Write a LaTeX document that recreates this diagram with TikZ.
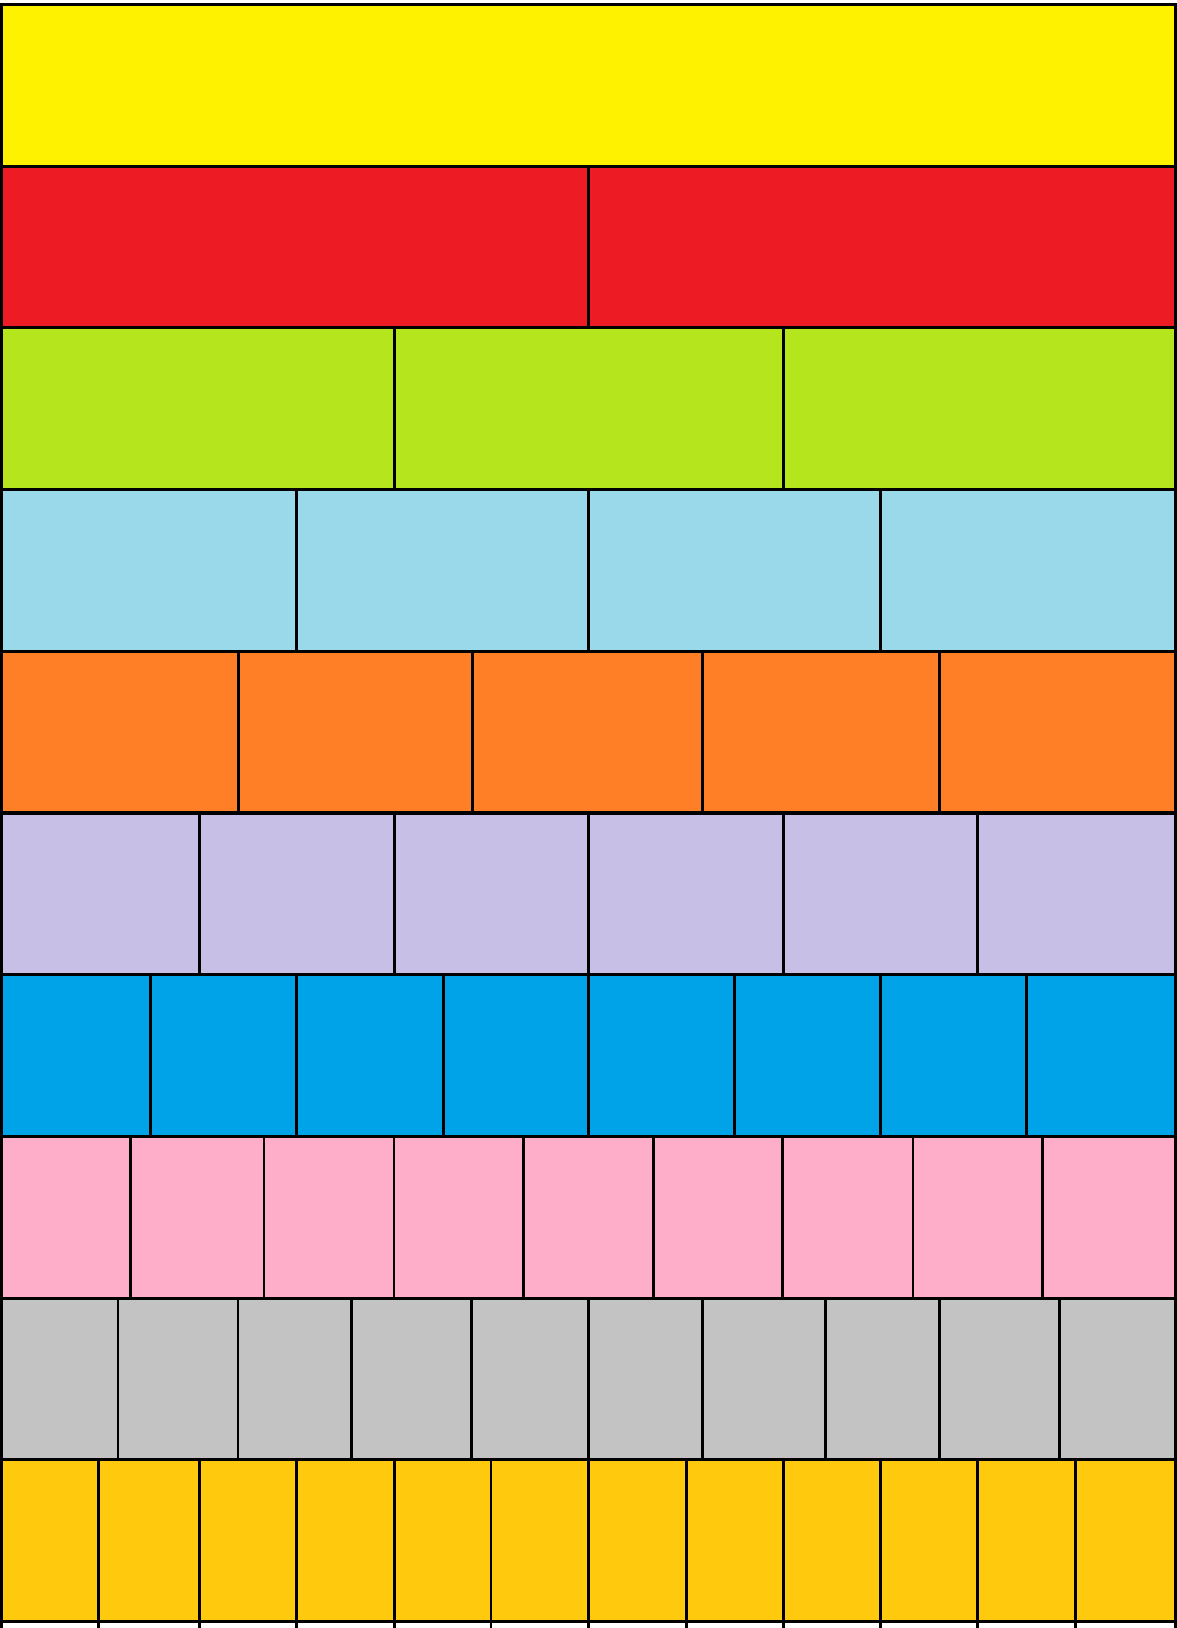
\documentclass[tikz,border=0pt]{standalone}
\definecolor{cA}{HTML}{FFF200}
\definecolor{cB}{HTML}{ED1C24}
\definecolor{cC}{HTML}{B5E61D}
\definecolor{cD}{HTML}{99D9EA}
\definecolor{cE}{HTML}{FF7F27}
\definecolor{cF}{HTML}{C8BFE7}
\definecolor{cG}{HTML}{00A2E8}
\definecolor{cH}{HTML}{FFAEC9}
\definecolor{cI}{HTML}{C3C3C3}
\definecolor{cJ}{HTML}{FFC90E}
\begin{document}
\begin{tikzpicture}[x=1pt,y=-1pt,
  wall/.style={draw=black,line width=3.1pt},
  divline/.style={draw=black,line width=2.9pt}]
\useasboundingbox (0,0) rectangle (1177,1628);
\def\L{1.5}
\def\R{1175.5}
\def\T{4.5}
\def\H{161.7}
% row 1
\fill[cA] (\L,\T) rectangle (\R,\T+\H);
\draw[wall] (\L,\T) rectangle (\R,\T+\H);
% other rows
\foreach \i/\col/\divs in {
  1/cB/{588.5},
  2/cC/{394.4,783.7},
  3/cD/{296.9,588.5,880.2},
  4/cE/{238.7,472.3,702.7,939.4},
  5/cF/{199.3,394.4,588.5,783.7,977.8},
  6/cG/{150.5,296.9,443.2,588.5,734.9,880.2,1026.6},
  7/cH/{130.7,264,394,523.3,653.3,782.7,913,1042.7},
  8/cI/{118,238,351.7,471.7,588.3,702.3,825.3,939.3,1059.7},
  9/cJ/{98.5,199.3,296.9,394.4,491,588.5,686.1,783.7,880.2,977.8,1075.4}}{
  \fill[\col] (\L,\T+\i*\H) rectangle (\R,\T+\i*\H+\H);
  \foreach \x in \divs {
    \draw[divline] (\x,\T+\i*\H) -- (\x,\T+\i*\H+\H);
  }
  \draw[wall] (\L,\T+\i*\H) rectangle (\R,\T+\i*\H+\H);
}
% stubs of the next row below the cut
\foreach \x in {98.5,199.3,296.9,394.4,491,588.5,686.1,783.7,880.2,977.8,1075.4} {
  \draw[divline] (\x,\T+10*\H) -- (\x,1630);
}
\draw[wall] (\L,\T+10*\H) -- (\L,1630);
\draw[wall] (\R,\T+10*\H) -- (\R,1630);
\end{tikzpicture}
\end{document}
